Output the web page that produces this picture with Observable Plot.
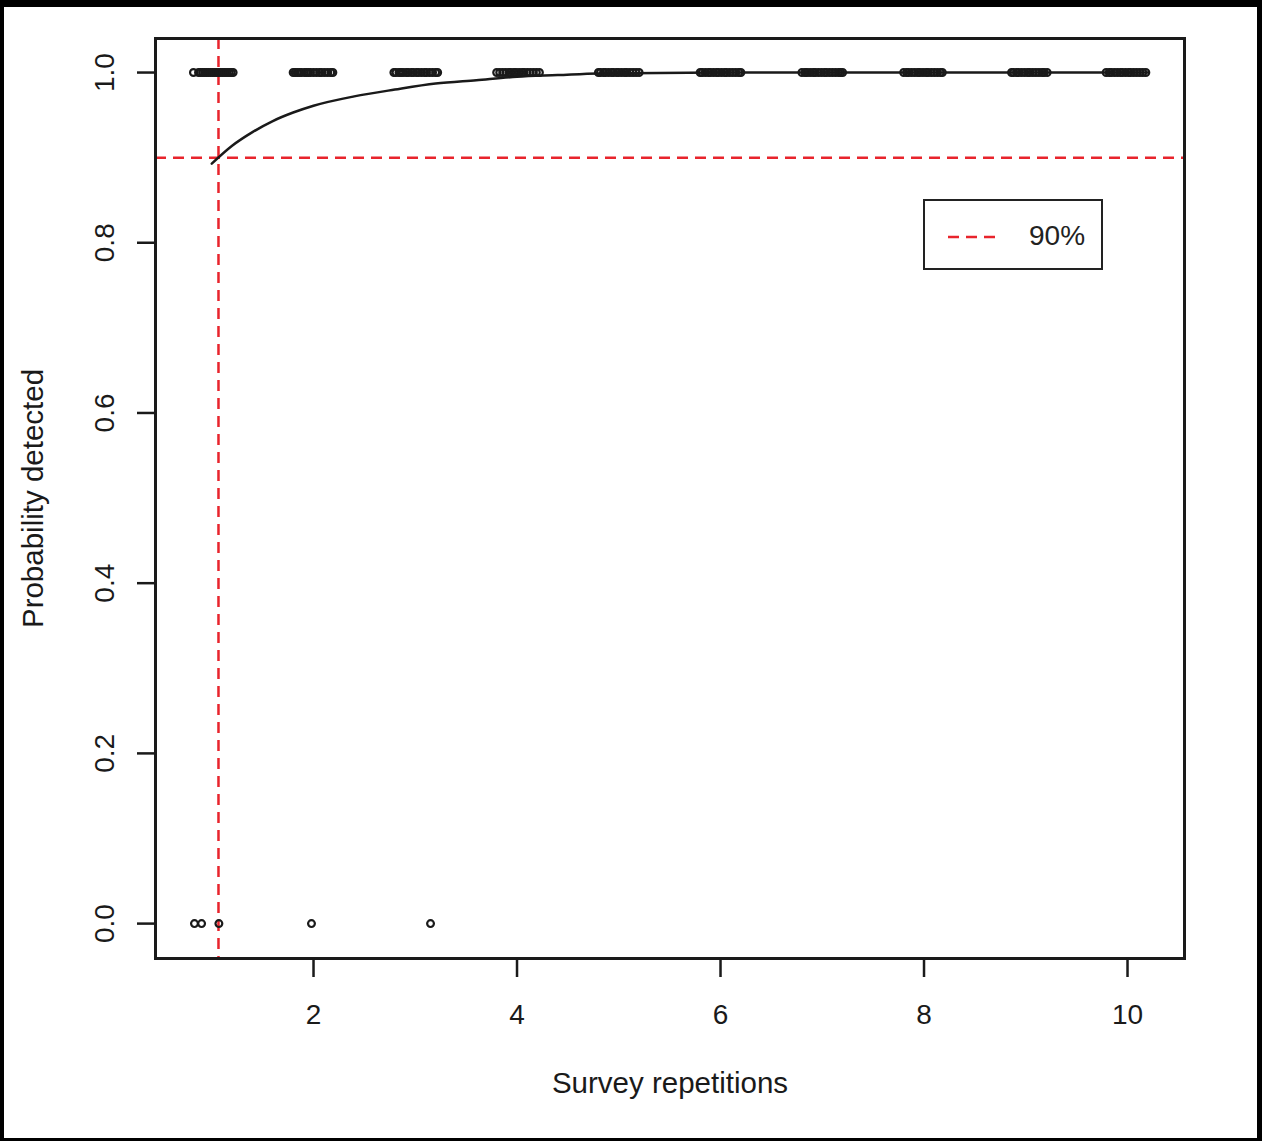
<!DOCTYPE html>
<html>
<head>
<meta charset="utf-8">
<script src="https://cdn.jsdelivr.net/npm/d3@7"></script>
<script src="https://cdn.jsdelivr.net/npm/@observablehq/plot@0.6"></script>
<style>
  html, body { margin: 0; padding: 0; background: #fff; }
  #wrap { position: relative; width: 1262px; height: 1141px; overflow: hidden; }
  #border { position: absolute; left: 0; top: 0; width: 1262px; height: 1141px; box-sizing: border-box;
            border-style: solid; border-color: #000; border-width: 7px 5px 3px 4px; pointer-events: none; }
  #legend { position: absolute; left: 923px; top: 199px; width: 180px; height: 71px; box-sizing: border-box;
            border: 2px solid #222; background: #fff; font-family: "Liberation Sans", Arial, sans-serif; }
  #legend svg { position: absolute; left: 0; top: 0; }
  #legend span { position: absolute; left: 104px; top: 20px; font-size: 28px; color: #222; line-height: 30px; }
</style>
</head>
<body>
<div id="wrap">
  <div id="chart"></div>
  <div id="legend">
    <svg width="176" height="67"><line x1="23" x2="77" y1="36" y2="36" stroke="#e8242c" stroke-width="2.5" stroke-dasharray="11,7"></line></svg>
    <span>90%</span>
  </div>
  <div id="border"></div>
</div>
<script>
// Tick values and labels
const xTicks = [2, 4, 6, 8, 10];
const yTicks = [0, 0.2, 0.4, 0.6, 0.8, 1.0];
const yTickLabels = ["0.0", "0.2", "0.4", "0.6", "0.8", "1.0"];

// Jittered survey repetitions where the species was detected (y = 1)
const detectedX = [
  0.82, 0.87, 0.89, 0.91, 0.93, 0.95, 0.97, 0.99, 1.01, 1.03, 1.05, 1.07, 1.09, 1.11, 1.13, 1.15, 1.17, 1.19, 1.21,
  1.80, 1.82, 1.84, 1.86, 1.88, 1.91, 1.93, 1.95, 1.97, 2.00, 2.03, 2.06, 2.08, 2.11, 2.14, 2.17, 2.19,
  2.79, 2.81, 2.84, 2.86, 2.88, 2.91, 2.93, 2.96, 2.98, 3.01, 3.03, 3.06, 3.09, 3.11, 3.14, 3.17, 3.20, 3.22,
  3.80, 3.83, 3.86, 3.89, 3.92, 3.94, 3.97, 3.99, 4.02, 4.05, 4.07, 4.10, 4.13, 4.16, 4.19, 4.22,
  4.80, 4.82, 4.85, 4.87, 4.90, 4.93, 4.95, 4.98, 5.00, 5.03, 5.06, 5.08, 5.11, 5.14, 5.17, 5.20,
  5.80, 5.82, 5.85, 5.88, 5.90, 5.93, 5.96, 5.98, 6.01, 6.04, 6.06, 6.09, 6.12, 6.15, 6.18, 6.20,
  6.80, 6.83, 6.85, 6.88, 6.91, 6.93, 6.96, 6.99, 7.02, 7.04, 7.07, 7.10, 7.13, 7.16, 7.18, 7.20,
  7.80, 7.83, 7.85, 7.88, 7.91, 7.94, 7.96, 7.99, 8.02, 8.04, 8.07, 8.10, 8.13, 8.16, 8.18,
  8.86, 8.88, 8.91, 8.93, 8.96, 8.99, 9.02, 9.04, 9.07, 9.10, 9.13, 9.16, 9.18, 9.21,
  9.79, 9.82, 9.84, 9.87, 9.90, 9.93, 9.95, 9.98, 10.01, 10.03, 10.06, 10.09, 10.12, 10.15, 10.18
];
// Jittered survey repetitions where the species was not detected (y = 0)
const missedX = [0.83, 0.90, 1.07, 1.98, 3.15];

// Fitted cumulative detection probability curve
const curveX = [1.00, 1.20, 1.40, 1.60, 1.80, 2.00, 2.40, 2.80, 3.20, 3.60, 4.00, 4.40, 4.80, 6.00, 8.00, 10.20];
const curveY = [0.893, 0.914, 0.930, 0.943, 0.953, 0.961, 0.972, 0.980, 0.987, 0.991, 0.995, 0.997, 0.999, 1.0, 1.0, 1.0];

// 90% threshold and the repetitions where it is reached
const threshold = [0.9];
const thresholdX = [1.066];

const points = [
  ...detectedX.map(x => ({x, y: 1})),
  ...missedX.map(x => ({x, y: 0}))
];
const curve = curveX.map((x, i) => ({x, y: curveY[i]}));

const red = "#e8242c";
const ink = "#1a1a1a";

const plot = Plot.plot({
  width: 1262,
  height: 1141,
  marginLeft: 155,
  marginRight: 78,
  marginTop: 38,
  marginBottom: 183,
  x: {domain: [0.447, 10.56]},
  y: {domain: [-0.041, 1.04]},
  style: {fontFamily: "'Liberation Sans', Arial, sans-serif", fontSize: "27px", color: ink, background: "#fff"},
  marks: [
    Plot.ruleY(threshold, {stroke: red, strokeWidth: 2.5, strokeDasharray: "11,7"}),
    Plot.ruleX(thresholdX, {stroke: red, strokeWidth: 2.5, strokeDasharray: "11,7"}),
    Plot.line(curve, {x: "x", y: "y", stroke: ink, strokeWidth: 2.5, curve: "monotone-x"}),
    Plot.dot(points, {x: "x", y: "y", r: 3.4, stroke: ink, strokeWidth: 2.2, fill: "none"}),
    Plot.frame({stroke: ink, strokeWidth: 3}),
    Plot.axisX({ticks: xTicks, tickSize: 19, tickPadding: 27, tickFormat: d => String(d), fontSize: 28, stroke: ink, strokeWidth: 2.5, label: null}),
    Plot.axisY({ticks: yTicks, tickSize: 18, tickFormat: () => "", stroke: ink, strokeWidth: 2.5, label: null}),
    Plot.text(yTicks, {y: d => d, text: (d, i) => yTickLabels[i], frameAnchor: "left", dx: -42, rotate: -90, textAnchor: "middle", lineAnchor: "bottom", fontSize: 28, fill: ink}),
    Plot.text(["Survey repetitions"], {frameAnchor: "bottom", dy: 134, lineAnchor: "bottom", textAnchor: "middle", fontSize: 29.5, fill: ink}),
    Plot.text(["Probability detected"], {frameAnchor: "left", dx: -113, rotate: -90, lineAnchor: "bottom", textAnchor: "middle", fontSize: 29.5, fill: ink})
  ]
});
document.getElementById("chart").appendChild(plot);
</script>
</body>
</html>
